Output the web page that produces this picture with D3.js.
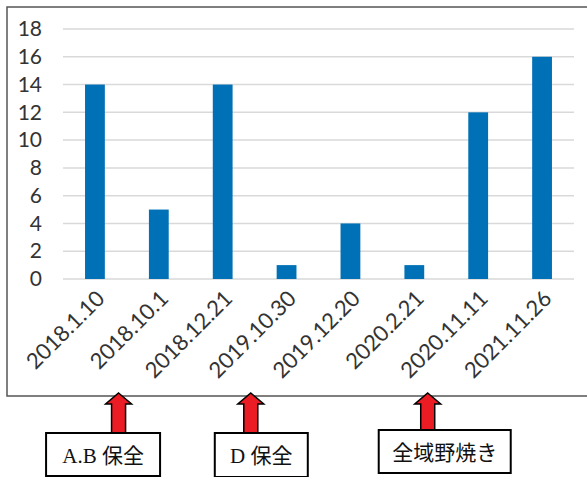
<!DOCTYPE html>
<html><head><meta charset="utf-8">
<script src="https://cdn.jsdelivr.net/npm/d3@7"></script>
<style>body{margin:0;background:#fff}svg{display:block}</style>
</head><body>
<svg id="c" width="587" height="477"></svg>
<script>
const categories = ["2018.1.10","2018.10.1","2018.12.21","2019.10.30","2019.12.20","2020.2.21","2020.11.11","2021.11.26"];
const values = [14,5,14,1,4,1,12,16];
const yTicks = [0,2,4,6,8,10,12,14,16,18];
const noteLabels = ["A.B 保全","D 保全","全域野焼き"];
const notePositions = [0.87, 2.94, 5.71]; // in category steps from the left of the plot

const svg = d3.select("#c");
const W = 587, H = 477;
const plot = {left:63, right:574, top:29, bottom:279};

svg.append("rect").attr("width",W).attr("height",H).attr("fill","#fff");
svg.append("rect").attr("x",7).attr("y",7).attr("width",600).attr("height",389)
  .attr("fill","none").attr("stroke","#555").attr("stroke-width",1.5);

const x = d3.scaleBand().domain(categories).range([plot.left, plot.right]).paddingInner(0.69).paddingOuter(0.345);
const y = d3.scaleLinear().domain([0,18]).range([plot.bottom, plot.top]);

// gridlines
svg.append("g").selectAll("line").data(yTicks).join("line")
  .attr("x1",plot.left).attr("x2",plot.right)
  .attr("y1",d=>y(d)).attr("y2",d=>y(d))
  .attr("stroke","#d9d9d9").attr("stroke-width",1.5);

// y axis labels
const yAxis = d3.axisLeft(y).tickValues(yTicks).tickSize(0).tickPadding(0);
const ya = svg.append("g").attr("transform",`translate(42,0)`).call(yAxis);
ya.select(".domain").remove();
ya.selectAll("text").attr("font-family","Lato, 'Open Sans', sans-serif").attr("font-size",21).attr("fill","#333");

// bars
svg.append("g").selectAll("rect").data(values).join("rect")
  .attr("x",(d,i)=>x(categories[i]))
  .attr("width",x.bandwidth())
  .attr("y",d=>y(d))
  .attr("height",d=>y(0)-y(d))
  .attr("fill","#0071b7");

// x labels
const xAxis = d3.axisBottom(x).tickSize(0).tickPadding(0);
const xa = svg.append("g").attr("transform",`translate(0,${plot.bottom})`).call(xAxis);
xa.select(".domain").remove();
xa.selectAll("text")
  .attr("font-family","Lato, 'Open Sans', sans-serif").attr("font-size",22).attr("fill","#333")
  .attr("text-anchor","end").attr("dy",0).attr("y",0)
  .attr("transform","translate(11,21) rotate(-45)");

// annotations
const step = x.step();
const boxes = [
  {w:114, h:43, y:433, dx:-15.5},
  {w:93, h:44, y:433, dx:10.5},
  {w:132, h:43, y:430, dx:17}
];
const ann = svg.append("g");
notePositions.forEach((p,i)=>{
  const cx = plot.left + p*step;
  const tip = 393, headBase = 404, sw = 7, hw = 13;
  const b = boxes[i];
  const bottom = b.y;
  const pts = [[cx,tip],[cx+hw,headBase],[cx+sw,headBase],[cx+sw,bottom],[cx-sw,bottom],[cx-sw,headBase],[cx-hw,headBase]];
  ann.append("polygon").attr("points",pts.map(q=>q.join(",")).join(" "))
    .attr("fill","#ec1c24").attr("stroke","#000").attr("stroke-width",1.5).attr("stroke-linejoin","miter");
  const bx = cx + b.dx - b.w/2;
  ann.append("rect").attr("x",bx).attr("y",b.y).attr("width",b.w).attr("height",b.h)
    .attr("fill","#fff").attr("stroke","#000").attr("stroke-width",2);
  ann.append("text").attr("x",bx+b.w/2).attr("y",b.y+30)
    .attr("text-anchor","middle").attr("font-size",21)
    .attr("font-family","'Liberation Serif', 'Noto Sans CJK JP', serif").attr("fill","#111")
    .text(noteLabels[i]);
});
</script>
</body></html>
